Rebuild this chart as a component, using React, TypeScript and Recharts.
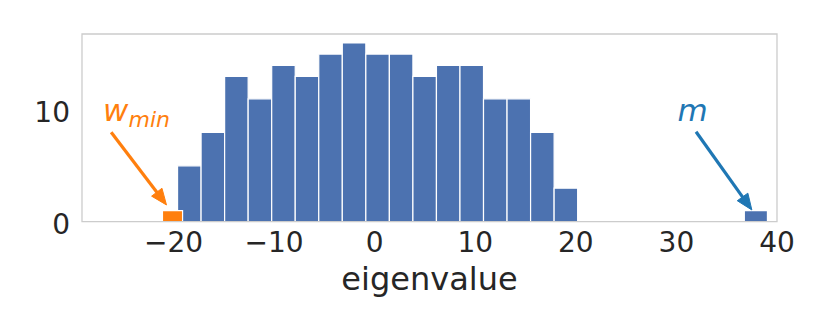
import React from 'react';
import {
  ComposedChart,
  XAxis,
  YAxis,
  ReferenceArea,
  ReferenceLine,
  ReferenceDot,
  Scatter,
} from 'recharts';

// Histogram of eigenvalues (bulk)
const binEdges = [
  -19.6, -17.26, -14.92, -12.58, -10.24, -7.9, -5.56, -3.22, -0.88, 1.46, 3.8,
  6.14, 8.48, 10.82, 13.16, 15.5, 17.84, 20.18,
];
const binCounts = [5, 8, 13, 11, 14, 13, 15, 16, 15, 15, 13, 14, 14, 11, 11, 8, 3];

// Outliers
const wminBin = [-21.1, -19.1];
const wminCount = 1;
const mBin = [36.75, 39.05];
const mCount = 1;

// Axes
const xDomain = [-29.1, 40];
const yDomain = [0, 16.8];
const xTicks = [-20, -10, 0, 10, 20, 30, 40];
const yTicks = [0, 10];

// Annotations (data coordinates)
const wminLabelPos = { x: -27.0, y: 9.0 };
const wminArrow = [
  { x: -26.2, y: 8.0 },
  { x: -20.7, y: 1.5 },
];
const mLabelPos = { x: 30.1, y: 9.0 };
const mArrow = [
  { x: 31.95, y: 8.05 },
  { x: 37.5, y: 1.05 },
];

const BLUE = '#4c72b0';
const ORANGE = '#ff7f0e';
const MBLUE = '#1f77b4';
const TEXT = '#262626';
const FONT = '"DejaVu Sans", sans-serif';

const bins = binCounts.map((c, i) => ({
  lo: binEdges[i],
  hi: binEdges[i + 1],
  x: (binEdges[i] + binEdges[i + 1]) / 2,
  count: c,
}));

const fmt = (v: number) => (v < 0 ? '\u2212' + Math.abs(v) : String(v));

const makeArrow = (color: string) => (props: any) => {
  const { x1, y1, x2, y2 } = props;
  const dx = x2 - x1;
  const dy = y2 - y1;
  const len = Math.sqrt(dx * dx + dy * dy) || 1;
  const ux = dx / len;
  const uy = dy / len;
  const hl = 16;
  const hw = 6.5;
  const bx = x2 - ux * hl;
  const by = y2 - uy * hl;
  const px = -uy;
  const py = ux;
  const pts = `${x2},${y2} ${bx + px * hw},${by + py * hw} ${bx - px * hw},${by - py * hw}`;
  return (
    <g>
      <line x1={x1} y1={y1} x2={bx + ux * 2} y2={by + uy * 2} stroke={color} strokeWidth={3.2} />
      <polygon points={pts} fill={color} stroke={color} strokeWidth={1} strokeLinejoin="miter" />
    </g>
  );
};

const WminLabel = (props: any) => {
  const { cx, cy } = props;
  return (
    <text
      x={cx}
      y={cy}
      fill={ORANGE}
      fontFamily={FONT}
      fontStyle="italic"
      fontSize={31}
    >
      w
      <tspan fontSize={22} dy={6}>
        min
      </tspan>
    </text>
  );
};

const MLabel = (props: any) => {
  const { cx, cy } = props;
  return (
    <text x={cx} y={cy} fill={MBLUE} fontFamily={FONT} fontStyle="italic" fontSize={31}>
      m
    </text>
  );
};

export default function App() {
  return (
    <div style={{ position: 'absolute', left: 0, top: 0, background: '#fff' }}>
      <ComposedChart
        width={830}
        height={332}
        data={bins}
        margin={{ top: 34, right: 53, bottom: 40.3, left: 22 }}
      >
        <XAxis
          dataKey="x"
          type="number"
          domain={xDomain}
          allowDataOverflow
          ticks={xTicks}
          tickFormatter={fmt}
          axisLine={false}
          tickLine={false}
          tickSize={0}
          tickMargin={10}
          height={70}
          interval={0}
          tick={{ fill: TEXT, fontSize: 28, fontFamily: FONT }}
          label={{
            value: 'eigenvalue',
            position: 'insideBottom',
            offset: 2,
            fill: TEXT,
            fontSize: 32,
            fontFamily: FONT,
          }}
        />
        <YAxis
          type="number"
          domain={yDomain}
          allowDataOverflow
          ticks={yTicks}
          axisLine={false}
          tickLine={false}
          tickSize={0}
          tickMargin={12}
          width={60}
          interval={0}
          tick={{ fill: TEXT, fontSize: 28, fontFamily: FONT, dy: 2 }}
        />
        <Scatter dataKey="count" isAnimationActive={false} shape={() => <g />} />
        {bins.map((b, i) => (
          <ReferenceArea
            key={'b' + i}
            x1={b.lo}
            x2={b.hi}
            y1={0}
            y2={b.count}
            fill={BLUE}
            fillOpacity={1}
            stroke="#ffffff"
            strokeWidth={1.2}
            ifOverflow="visible"
          />
        ))}
        <ReferenceArea
          x1={wminBin[0]}
          x2={wminBin[1]}
          y1={0}
          y2={wminCount}
          fill={ORANGE}
          fillOpacity={1}
          stroke="#ffffff"
          strokeWidth={1.2}
          ifOverflow="visible"
        />
        <ReferenceArea
          x1={mBin[0]}
          x2={mBin[1]}
          y1={0}
          y2={mCount}
          fill={BLUE}
          fillOpacity={1}
          stroke="#ffffff"
          strokeWidth={1.2}
          ifOverflow="visible"
        />
        <ReferenceArea
          x1={xDomain[0]}
          x2={xDomain[1]}
          y1={yDomain[0]}
          y2={yDomain[1]}
          fill="none"
          fillOpacity={0}
          stroke="#cccccc"
          strokeWidth={1.3}
          ifOverflow="visible"
        />
        <ReferenceLine
          segment={wminArrow}
          ifOverflow="visible"
          shape={makeArrow(ORANGE)}
        />
        <ReferenceLine
          segment={mArrow}
          ifOverflow="visible"
          shape={makeArrow(MBLUE)}
        />
        <ReferenceDot
          x={wminLabelPos.x}
          y={wminLabelPos.y}
          r={0}
          ifOverflow="visible"
          shape={WminLabel}
        />
        <ReferenceDot
          x={mLabelPos.x}
          y={mLabelPos.y}
          r={0}
          ifOverflow="visible"
          shape={MLabel}
        />
      </ComposedChart>
    </div>
  );
}
